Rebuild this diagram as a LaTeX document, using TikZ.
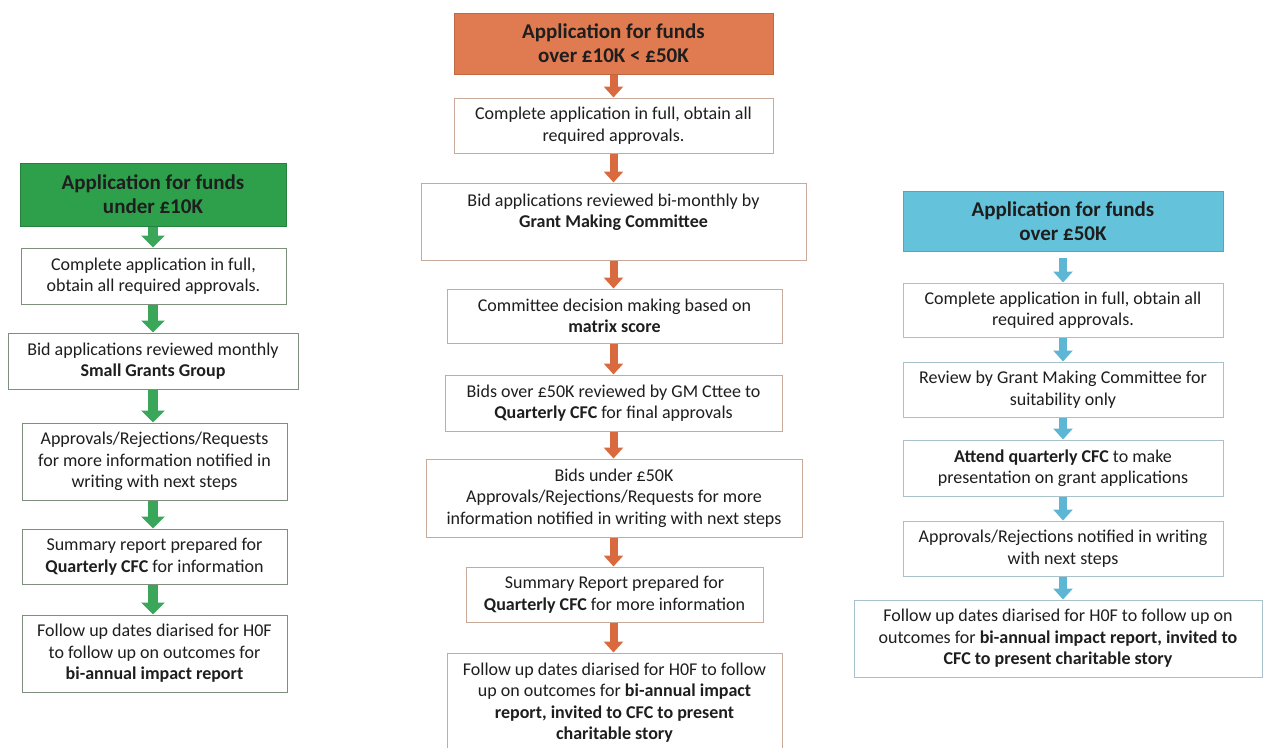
\documentclass[tikz,border=0pt]{standalone}
\usepackage{fontspec}
\setmainfont{Carlito}
\usetikzlibrary{arrows.meta}
\definecolor{txt}{HTML}{1E1E1E}
\definecolor{gfill}{HTML}{2EA04C}
\definecolor{garrow}{HTML}{3AA65A}
\definecolor{gedge}{HTML}{7E8F7E}
\definecolor{ofill}{HTML}{E07A50}
\definecolor{oarrow}{HTML}{D9693F}
\definecolor{oedge}{HTML}{C9AA9A}
\definecolor{bfill}{HTML}{64C3DA}
\definecolor{barrow}{HTML}{5DB6D3}
\definecolor{bedge}{HTML}{A8C2CA}
\tikzset{
  stepbox/.style={draw, rectangle, align=center, inner sep=2pt, line width=1pt,
    fill=white, text=txt, font=\fontsize{18}{21.5}\selectfont},
  headbox/.style={rectangle, align=center, inner sep=2pt, line width=1pt,
    text=txt, font=\bfseries\fontsize{21}{24}\selectfont},
  gbox/.style={stepbox, draw=gedge},
  obox/.style={stepbox, draw=oedge},
  bbox/.style={stepbox, draw=bedge},
  garr/.style={draw=garrow, line width=10pt, -{Triangle[width=23pt,length=12pt,fill=garrow]}},
  oarr/.style={draw=oarrow, line width=8pt, -{Triangle[width=19pt,length=11pt,fill=oarrow]}},
  barr/.style={draw=barrow, line width=8pt, -{Triangle[width=19pt,length=11pt,fill=barrow]}},
}
\begin{document}
\begin{tikzpicture}[x=1pt,y=-1pt]
\useasboundingbox (0,0) rectangle (1277,747);
\clip (0,0) rectangle (1277,747);
\fill[white] (0,0) rectangle (1277,747);

% ---------- left column ----------
\node[headbox, fill=gfill, draw=gfill!80!black, minimum width=266, minimum height=63] (hL) at (153,194.5)
  {Application for funds\\under £10K};
\node[gbox, minimum width=265, minimum height=56] (L1) at (153.5,276)
  {Complete application in full,\\obtain all required approvals.};
\node[gbox, minimum width=290, minimum height=56] (L2) at (153,361)
  {Bid applications reviewed monthly\\\textbf{Small Grants Group}};
\node[gbox, minimum width=265, minimum height=77] (L3) at (154.5,461.5)
  {Approvals/Rejections/Requests\\for more information notified in\\writing with next steps};
\node[gbox, minimum width=265, minimum height=55] (L4) at (154.5,556.5)
  {Summary report prepared for\\\textbf{Quarterly CFC} for information};
\node[gbox, minimum width=265, minimum height=77] (L5) at (154.5,653.5)
  {Follow up dates diarised for H0F\\to follow up on outcomes for\\\textbf{bi-annual impact report}};

\draw[garr] (hL.south) -- (hL.south |- L1.north);
\draw[garr] (hL.south |- L1.south) -- (hL.south |- L2.north);
\draw[garr] (hL.south |- L2.south) -- (hL.south |- L3.north);
\draw[garr] (hL.south |- L3.south) -- (hL.south |- L4.north);
\draw[garr] (hL.south |- L4.south) -- (hL.south |- L5.north);

% ---------- middle column ----------
\node[headbox, fill=ofill, draw=ofill!85!black, minimum width=319, minimum height=61] (hM) at (613.5,43.5)
  {Application for funds\\over £10K < £50K};
\node[obox, minimum width=319, minimum height=55] (M1) at (613.5,125.5)
  {Complete application in full, obtain all\\required approvals.};
\node[obox, minimum width=385, minimum height=77] (M2) at (613.5,221.5)
  {Bid applications reviewed bi-monthly by\\\textbf{Grant Making Committee}\\\mbox{}};
\node[obox, minimum width=335, minimum height=54] (M3) at (614.5,316)
  {Committee decision making based on\\\textbf{matrix score}};
\node[obox, minimum width=337, minimum height=56] (M4) at (613.5,403)
  {Bids over £50K reviewed by GM Cttee to\\\textbf{Quarterly CFC} for final approvals};
\node[obox, minimum width=376, minimum height=78] (M5) at (614,498)
  {Bids under £50K\\Approvals/Rejections/Requests for more\\information notified in writing with next steps};
\node[obox, minimum width=297, minimum height=55] (M6) at (614.5,594.5)
  {Summary Report prepared for\\\textbf{Quarterly CFC} for more information};
\node[obox, minimum width=335, minimum height=99] (M7) at (614.5,702.5)
  {Follow up dates diarised for H0F to follow\\up on outcomes for \textbf{bi-annual impact}\\\textbf{report, invited to CFC to present}\\\textbf{charitable story}};

\draw[oarr] (hM.south) -- (hM.south |- M1.north);
\draw[oarr] (hM.south |- M1.south) -- (hM.south |- M2.north);
\draw[oarr] (hM.south |- M2.south) -- (hM.south |- M3.north);
\draw[oarr] (hM.south |- M3.south) -- (hM.south |- M4.north);
\draw[oarr] (hM.south |- M4.south) -- (hM.south |- M5.north);
\draw[oarr] (hM.south |- M5.south) -- (hM.south |- M6.north);
\draw[oarr] (hM.south |- M6.south) -- (hM.south |- M7.north);

% ---------- right column ----------
\node[headbox, fill=bfill, draw=bfill!85!black, minimum width=320, minimum height=60] (hR) at (1063,221)
  {Application for funds\\over £50K};
\node[bbox, minimum width=320, minimum height=54] (R1) at (1063,310)
  {Complete application in full, obtain all\\required approvals.};
\node[bbox, minimum width=320, minimum height=55] (R2) at (1063,389.5)
  {Review by Grant Making Committee for\\suitability only};
\node[bbox, minimum width=320, minimum height=56] (R3) at (1063,468)
  {\textbf{Attend quarterly CFC} to make\\presentation on grant applications};
\node[bbox, minimum width=320, minimum height=55] (R4) at (1063,548.5)
  {Approvals/Rejections notified in writing\\with next steps};
\node[bbox, minimum width=408, minimum height=77] (R5) at (1058,638.5)
  {Follow up dates diarised for H0F to follow up on\\outcomes for \textbf{bi-annual impact report, invited to}\\\textbf{CFC to present charitable story}};

\draw[barr, shorten <=6pt] (hR.south) -- (hR.south |- R1.north);
\draw[barr] (hR.south |- R1.south) -- (hR.south |- R2.north);
\draw[barr] (hR.south |- R2.south) -- (hR.south |- R3.north);
\draw[barr] (hR.south |- R3.south) -- (hR.south |- R4.north);
\draw[barr] (hR.south |- R4.south) -- (hR.south |- R5.north);
\end{tikzpicture}
\end{document}
